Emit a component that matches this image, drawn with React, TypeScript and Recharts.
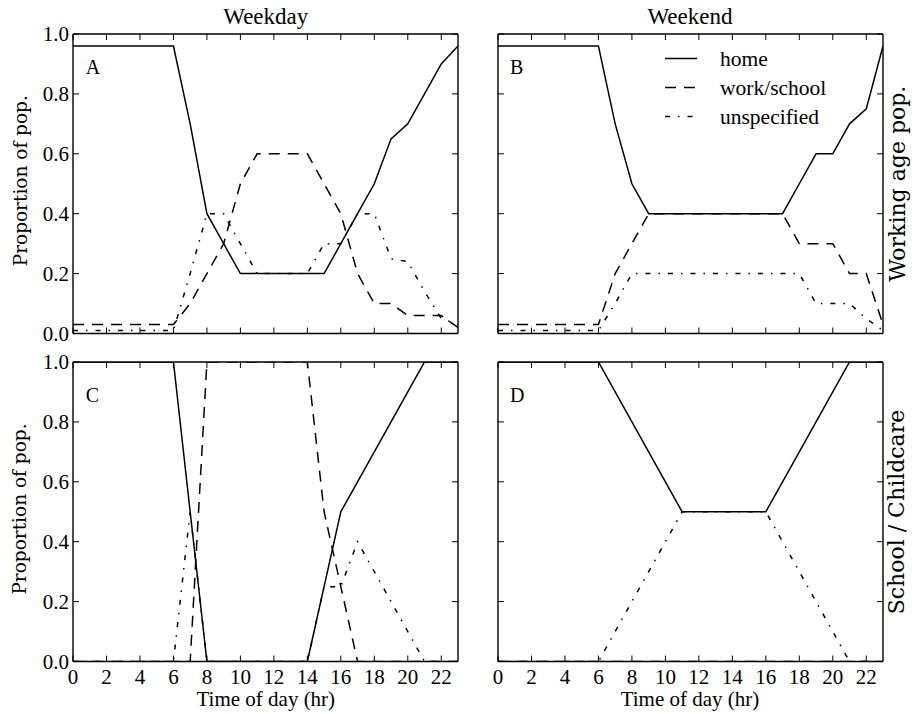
import React from 'react';
import { LineChart, Line, XAxis, YAxis } from 'recharts';

// ---------- data ----------
const hours = [0, 1, 2, 3, 4, 5, 6, 7, 8, 9, 10, 11, 12, 13, 14, 15, 16, 17, 18, 19, 20, 21, 22, 23];
const xTicks = [0, 2, 4, 6, 8, 10, 12, 14, 16, 18, 20, 22];
const yTicks = [0, 0.2, 0.4, 0.6, 0.8, 1.0];
const yTickLabels = ['0.0', '0.2', '0.4', '0.6', '0.8', '1.0'];
const seriesNames = ['home', 'work/school', 'unspecified'];
const columnTitles = ['Weekday', 'Weekend'];
const rowTitles = ['Working age pop.', 'School / Childcare'];
const panelLetters = ['A', 'B', 'C', 'D'];
const xLabel = 'Time of day (hr)';
const yLabel = 'Proportion of pop.';

// A: weekday, working age
const weekdayWorkHome = [0.96, 0.96, 0.96, 0.96, 0.96, 0.96, 0.96, 0.7, 0.4, 0.3, 0.2, 0.2, 0.2, 0.2, 0.2, 0.2, 0.3, 0.4, 0.5, 0.65, 0.7, 0.8, 0.9, 0.96];
const weekdayWorkWork = [0.03, 0.03, 0.03, 0.03, 0.03, 0.03, 0.03, 0.1, 0.2, 0.3, 0.5, 0.6, 0.6, 0.6, 0.6, 0.5, 0.4, 0.2, 0.1, 0.1, 0.06, 0.06, 0.06, 0.02];
const weekdayWorkUnspec = [0.01, 0.01, 0.01, 0.01, 0.01, 0.01, 0.01, 0.2, 0.4, 0.4, 0.3, 0.2, 0.2, 0.2, 0.2, 0.3, 0.3, 0.4, 0.4, 0.25, 0.24, 0.14, 0.05, 0.03];

// B: weekend, working age
const weekendWorkHome = [0.96, 0.96, 0.96, 0.96, 0.96, 0.96, 0.96, 0.7, 0.5, 0.4, 0.4, 0.4, 0.4, 0.4, 0.4, 0.4, 0.4, 0.4, 0.5, 0.6, 0.6, 0.7, 0.75, 0.96];
const weekendWorkWork = [0.03, 0.03, 0.03, 0.03, 0.03, 0.03, 0.03, 0.2, 0.3, 0.4, 0.4, 0.4, 0.4, 0.4, 0.4, 0.4, 0.4, 0.4, 0.3, 0.3, 0.3, 0.2, 0.2, 0.03];
const weekendWorkUnspec = [0.01, 0.01, 0.01, 0.01, 0.01, 0.01, 0.01, 0.1, 0.2, 0.2, 0.2, 0.2, 0.2, 0.2, 0.2, 0.2, 0.2, 0.2, 0.2, 0.1, 0.1, 0.1, 0.05, 0.01];

// C: weekday, school / childcare
const weekdaySchoolHome = [1, 1, 1, 1, 1, 1, 1, 0.5, 0, 0, 0, 0, 0, 0, 0, 0.25, 0.5, 0.6, 0.7, 0.8, 0.9, 1, 1, 1];
const weekdaySchoolWork = [0, 0, 0, 0, 0, 0, 0, 0, 1, 1, 1, 1, 1, 1, 1, 0.5, 0.25, 0, 0, 0, 0, 0, 0, 0];
const weekdaySchoolUnspec = [0, 0, 0, 0, 0, 0, 0, 0.5, 0, 0, 0, 0, 0, 0, 0, 0.25, 0.25, 0.4, 0.3, 0.2, 0.1, 0, 0, 0];

// D: weekend, school / childcare
const weekendSchoolHome = [1, 1, 1, 1, 1, 1, 1, 0.9, 0.8, 0.7, 0.6, 0.5, 0.5, 0.5, 0.5, 0.5, 0.5, 0.6, 0.7, 0.8, 0.9, 1, 1, 1];
const weekendSchoolWork = [0, 0, 0, 0, 0, 0, 0, 0, 0, 0, 0, 0, 0, 0, 0, 0, 0, 0, 0, 0, 0, 0, 0, 0];
const weekendSchoolUnspec = [0, 0, 0, 0, 0, 0, 0, 0.1, 0.2, 0.3, 0.4, 0.5, 0.5, 0.5, 0.5, 0.5, 0.5, 0.4, 0.3, 0.2, 0.1, 0, 0, 0];

const buildRows = (home: number[], work: number[], unspec: number[]) =>
  hours.map((h, i) => ({ hour: h, home: home[i], work: work[i], unspec: unspec[i] }));

// ---------- styling ----------
const SERIF = '"Liberation Serif", "Times New Roman", serif';
const DSERIF = '"DejaVu Serif", serif';
const TICK_FONT = 21;
const TICK_LEN = 6;
const FRAME_W = 1.4;
const LINE_W = 1.5;
const DASH = '11 8';
const DASHDOT = '5 8 1.5 8';

const PLOT_W = 385;
const PLOT_H = 299.5;
const colLeft = [73.3, 497.5];
const rowTop = [34, 362.3];

const ML = 70, MR = 12, MT = 12, MB = 45;

type TickProps = { x?: number; y?: number; payload?: { value: number } };

const makeBottomTick = (labels: boolean) => (props: TickProps) => {
  const { x = 0, y = 0, payload } = props;
  return (
    <g>
      <line x1={x} x2={x} y1={y} y2={y - TICK_LEN} stroke="#000" strokeWidth={1} />
      {labels && (
        <text x={x} y={y + 22} textAnchor="middle" fontFamily={SERIF} fontSize={TICK_FONT} fill="#000">
          {payload ? String(payload.value) : ''}
        </text>
      )}
    </g>
  );
};

const TopTick = (props: TickProps) => {
  const { x = 0, y = 0 } = props;
  return <line x1={x} x2={x} y1={y} y2={y + TICK_LEN} stroke="#000" strokeWidth={1} />;
};

const makeLeftTick = (labels: boolean) => (props: TickProps) => {
  const { x = 0, y = 0, payload } = props;
  const idx = payload ? yTicks.indexOf(payload.value) : -1;
  return (
    <g>
      <line x1={x} x2={x + TICK_LEN} y1={y} y2={y} stroke="#000" strokeWidth={1} />
      {labels && (
        <text x={x - 4} y={y + 7} textAnchor="end" fontFamily={SERIF} fontSize={TICK_FONT} fill="#000">
          {idx >= 0 ? yTickLabels[idx] : ''}
        </text>
      )}
    </g>
  );
};

const RightTick = (props: TickProps) => {
  const { x = 0, y = 0 } = props;
  return <line x1={x} x2={x - TICK_LEN} y1={y} y2={y} stroke="#000" strokeWidth={1} />;
};

type PanelProps = {
  rows: ReturnType<typeof buildRows>;
  col: number;
  row: number;
};

const Panel = ({ rows, col, row }: PanelProps) => {
  const showX = row === 1;
  const showY = col === 0;
  const axisLine = { stroke: '#000', strokeWidth: FRAME_W };
  return (
    <div style={{ position: 'absolute', left: colLeft[col] - ML, top: rowTop[row] - MT }}>
      <LineChart
        width={PLOT_W + ML + MR}
        height={PLOT_H + MT + MB}
        data={rows}
        margin={{ top: MT - 1, right: MR - 1, bottom: MB - 1, left: ML - 1 }}
      >
        <XAxis
          dataKey="hour"
          type="number"
          domain={[0, 23]}
          ticks={xTicks}
          interval={0}
          height={1}
          tickSize={0}
          tickMargin={0}
          tickLine={false}
          axisLine={axisLine}
          tick={makeBottomTick(showX)}
          allowDataOverflow
        />
        <XAxis
          xAxisId="top"
          orientation="top"
          type="number"
          domain={[0, 23]}
          ticks={xTicks}
          interval={0}
          height={1}
          tickSize={0}
          tickMargin={0}
          tickLine={false}
          axisLine={axisLine}
          tick={TopTick}
          allowDataOverflow
        />
        <YAxis
          type="number"
          domain={[0, 1]}
          ticks={yTicks}
          interval={0}
          width={1}
          tickSize={0}
          tickMargin={0}
          tickLine={false}
          axisLine={axisLine}
          tick={makeLeftTick(showY)}
          allowDataOverflow
        />
        <YAxis
          yAxisId="right"
          orientation="right"
          type="number"
          domain={[0, 1]}
          ticks={yTicks}
          interval={0}
          width={1}
          tickSize={0}
          tickMargin={0}
          tickLine={false}
          axisLine={axisLine}
          tick={RightTick}
          allowDataOverflow
        />
        <Line dataKey="home" type="linear" stroke="#000" strokeWidth={LINE_W} dot={false} isAnimationActive={false} />
        <Line dataKey="work" type="linear" stroke="#000" strokeWidth={LINE_W} strokeDasharray={DASH} dot={false} isAnimationActive={false} />
        <Line dataKey="unspec" type="linear" stroke="#000" strokeWidth={LINE_W} strokeDasharray={DASHDOT} dot={false} isAnimationActive={false} />
      </LineChart>
    </div>
  );
};

const legendStyles = ['', DASH, DASHDOT];

export default function App() {
  const panels = [
    { rows: buildRows(weekdayWorkHome, weekdayWorkWork, weekdayWorkUnspec), col: 0, row: 0 },
    { rows: buildRows(weekendWorkHome, weekendWorkWork, weekendWorkUnspec), col: 1, row: 0 },
    { rows: buildRows(weekdaySchoolHome, weekdaySchoolWork, weekdaySchoolUnspec), col: 0, row: 1 },
    { rows: buildRows(weekendSchoolHome, weekendSchoolWork, weekendSchoolUnspec), col: 1, row: 1 },
  ];
  return (
    <div style={{ position: 'absolute', left: 0, top: 0, width: 912, height: 714, background: '#fff', overflow: 'hidden' }}>
      {panels.map((p, i) => (
        <Panel key={i} rows={p.rows} col={p.col} row={p.row} />
      ))}
      <svg width={912} height={714} style={{ position: 'absolute', left: 0, top: 0, pointerEvents: 'none' }}>
        {columnTitles.map((t, c) => (
          <text key={t} x={colLeft[c] + PLOT_W / 2} y={24} textAnchor="middle" fontFamily={SERIF} fontSize={23} fill="#000">
            {t}
          </text>
        ))}
        {panels.map((p, i) => (
          <text key={panelLetters[i]} x={colLeft[p.col] + 12.5} y={rowTop[p.row] + 39.5} fontFamily={SERIF} fontSize={20} fill="#000">
            {panelLetters[i]}
          </text>
        ))}
        {[0, 1].map((c) => (
          <text key={'xl' + c} x={colLeft[c] + PLOT_W / 2} y={706} textAnchor="middle" fontFamily={SERIF} fontSize={21} fill="#000">
            {xLabel}
          </text>
        ))}
        {[0, 1].map((r) => {
          const cy = rowTop[r] + PLOT_H / 2 - 3;
          return (
            <text key={'yl' + r} x={20} y={cy} transform={`rotate(-90 20 ${cy})`} textAnchor="middle" dominantBaseline="central" fontFamily={DSERIF} fontSize={18.5} fill="#000">
              {yLabel}
            </text>
          );
        })}
        {rowTitles.map((t, r) => {
          const cy = rowTop[r] + PLOT_H / 2;
          return (
            <text key={t} x={897} y={cy} transform={`rotate(-90 897 ${cy})`} textAnchor="middle" dominantBaseline="central" fontFamily={DSERIF} fontSize={22} fill="#000">
              {t}
            </text>
          );
        })}
        {seriesNames.map((n, i) => {
          const y = 58.5 + i * 29;
          return (
            <g key={n}>
              <line x1={665} x2={697} y1={y} y2={y} stroke="#000" strokeWidth={LINE_W} strokeDasharray={legendStyles[i] || undefined} />
              <text x={720} y={y + 7} fontFamily={SERIF} fontSize={21.5} fill="#000">
                {n}
              </text>
            </g>
          );
        })}
      </svg>
    </div>
  );
}
